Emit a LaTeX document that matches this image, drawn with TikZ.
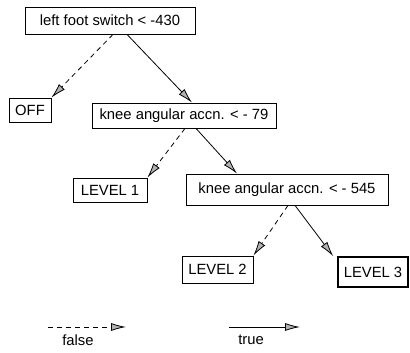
\documentclass[tikz,border=0pt]{standalone}
\usepackage{fontspec}
\setmainfont{Liberation Sans}
\usetikzlibrary{arrows.meta}
\begin{document}
\begin{tikzpicture}[x=1pt,y=-1pt,
  font=\fontsize{14.8}{16}\selectfont,
  box/.style={draw,line width=0.8pt,rectangle,inner sep=0pt,anchor=center},
  tip/.style={-{Latex[open,fill=gray!60,length=15pt,width=8pt]}},
  truearrow/.style={tip,line width=0.8pt},
  falsearrow/.style={tip,line width=0.8pt,dash pattern=on 5pt off 4pt}]
\useasboundingbox (0,0) rectangle (410,353);
% decision nodes
\node[box,minimum width=170pt,minimum height=27pt] (b1) at (110,20.5) {left foot switch < -430};
\node[box,minimum width=184pt,minimum height=25pt] (b2) at (184,115.5) {knee angular accn. < - 79};
\node[box,minimum width=202pt,minimum height=31pt] (b3) at (287,189.5) {knee angular accn. < - 545};
% leaves
\node[box,minimum width=42pt,minimum height=24pt] (off) at (30,110) {OFF};
\node[box,minimum width=74pt,minimum height=24pt] (l1) at (110,190) {LEVEL 1};
\node[box,minimum width=71pt,minimum height=27pt] (l2) at (217.5,269.5) {LEVEL 2};
\node[box,line width=1.6pt,minimum width=70pt,minimum height=30pt] (l3) at (373,272) {LEVEL 3};
% branches
\draw[falsearrow] ([xshift=3pt]b1.south) -- (off.north east);
\draw[truearrow] ([xshift=17pt]b1.south) -- ([xshift=8pt]b2.north);
\draw[falsearrow] ([xshift=1pt]b2.south) -- (l1.north east);
\draw[truearrow] ([xshift=12pt]b2.south) -- ([xshift=-50pt]b3.north);
\draw[falsearrow] ([xshift=1pt]b3.south) -- (l2.north east);
\draw[truearrow] ([xshift=8pt]b3.south) -- ([xshift=-4pt]l3.north west);
% legend
\coordinate (fa) at (48,327);
\coordinate (fb) at (126,327);
\coordinate (ta) at (229,327);
\coordinate (tb) at (300,327);
\draw[falsearrow] (fa) -- (fb);
\draw[truearrow] (ta) -- (tb);
\node (flab) at (78,340) {false};
\node (tlab) at (251,340) {true};
\end{tikzpicture}
\end{document}
